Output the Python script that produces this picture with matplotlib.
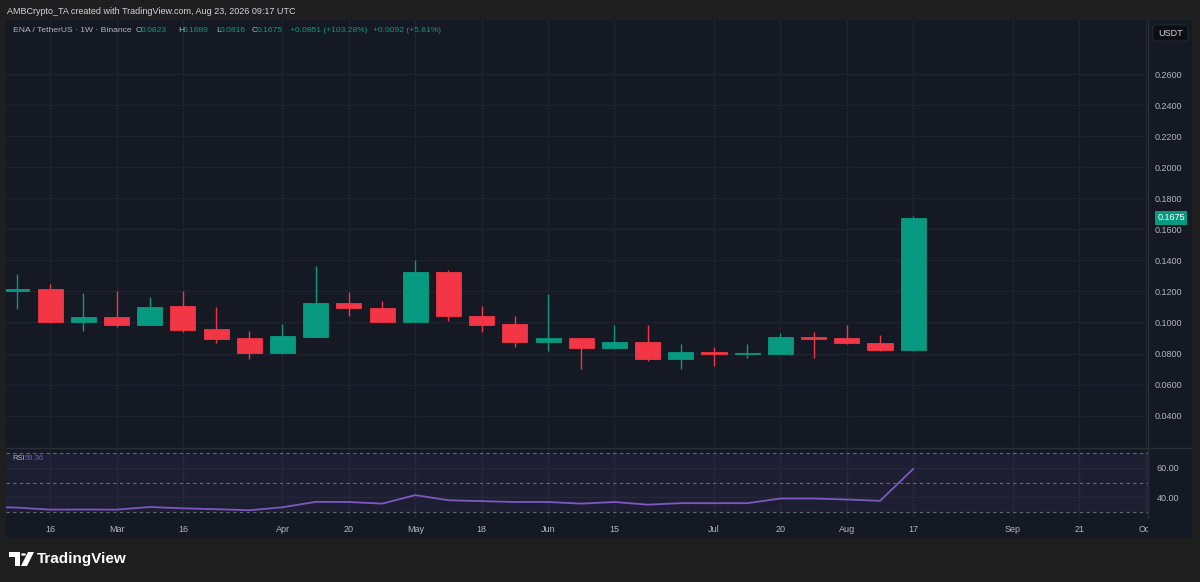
import matplotlib
matplotlib.use("Agg")
import matplotlib.pyplot as plt
import matplotlib.dates as mdates
from matplotlib.patches import Rectangle, FancyBboxPatch, Polygon, Circle
from matplotlib.transforms import blended_transform_factory, Bbox, TransformedBbox
import numpy as np
import datetime as dt

# weekly ENA/USDT candles, Binance
weeks = [dt.date(2026, 2, 9) + dt.timedelta(weeks=i) for i in range(28)]
opens = [0.1203, 0.1218, 0.1001, 0.1035, 0.0986, 0.1104, 0.0956, 0.0900, 0.0803, 0.0908,
         0.1124, 0.1095, 0.1003, 0.1324, 0.1044, 0.0988, 0.0876, 0.0900, 0.0837, 0.0872,
         0.0765, 0.0808, 0.0795, 0.0797, 0.0904, 0.0898, 0.0866, 0.0823]
highs = [0.1313, 0.1246, 0.1192, 0.1203, 0.1166, 0.1205, 0.1100, 0.0945, 0.0990, 0.1366,
         0.1195, 0.1139, 0.1403, 0.1339, 0.1106, 0.1042, 0.1184, 0.0902, 0.0984, 0.0984,
         0.0861, 0.0842, 0.0861, 0.0930, 0.0939, 0.0984, 0.0919, 0.1689]
lows = [0.1085, 0.0998, 0.0945, 0.0969, 0.0986, 0.0941, 0.0866, 0.0767, 0.0795, 0.0908,
        0.1044, 0.1003, 0.1003, 0.1010, 0.0941, 0.0844, 0.0816, 0.0698, 0.0829, 0.0750,
        0.0702, 0.0721, 0.0771, 0.0795, 0.0769, 0.0861, 0.0816, 0.0816]
closes = [0.1215, 0.1001, 0.1034, 0.0986, 0.1102, 0.0952, 0.0892, 0.0803, 0.0913, 0.1124,
          0.1092, 0.1003, 0.1324, 0.1042, 0.0986, 0.0876, 0.0898, 0.0837, 0.0872, 0.0765,
          0.0808, 0.0795, 0.0800, 0.0904, 0.0892, 0.0865, 0.0823, 0.1675]

rsi_weeks = [dt.date(2026, 2, 2) + dt.timedelta(weeks=i) for i in range(29)]
rsi_values = [33.6, 33.0, 31.6, 31.7, 31.6, 33.4, 32.5, 31.9, 31.2, 33.2, 36.9, 36.8, 35.7,
              41.5, 38.0, 37.4, 36.8, 36.8, 35.7, 36.8, 35.0, 36.0, 36.0, 36.0, 39.2, 39.2,
              38.5, 37.6, 59.36]

price_ticks = [0.04, 0.06, 0.08, 0.10, 0.12, 0.14, 0.16, 0.18, 0.20, 0.22, 0.24, 0.26]
time_ticks = [dt.date(2026, 2, 16), dt.date(2026, 3, 2), dt.date(2026, 3, 16), dt.date(2026, 4, 6),
              dt.date(2026, 4, 20), dt.date(2026, 5, 4), dt.date(2026, 5, 18), dt.date(2026, 6, 1),
              dt.date(2026, 6, 15), dt.date(2026, 7, 6), dt.date(2026, 7, 20), dt.date(2026, 8, 3),
              dt.date(2026, 8, 17), dt.date(2026, 9, 7), dt.date(2026, 9, 21), dt.date(2026, 10, 5)]
time_labels = ["16", "Mar", "16", "Apr", "20", "May", "18", "Jun", "15", "Jul", "20", "Aug",
               "17", "Sep", "21", "Oct"]

UP = "#089981"
DOWN = "#f23645"
BG = "#151924"
FRAME = "#1f1f1f"
GRID = "#1f2330"
TXT = "#b2b5be"
PURPLE = "#7e57c2"

plt.rcParams["font.family"] = ["Liberation Sans", "DejaVu Sans"]

W, H = 1200, 582
fig = plt.figure(figsize=(12, 5.82), dpi=100, facecolor=FRAME)


def fx(px):
    return px / W


def fy(py):
    return 1 - py / H


# chart panel (behind the axes)
fig.patches.append(Rectangle((fx(6), fy(538)), fx(1186), 518 / H, transform=fig.transFigure,
                             facecolor=BG, edgecolor="none", zorder=-5))

ax = fig.add_axes([fx(6), fy(447), fx(1142), 427 / H])
rsi = fig.add_axes([fx(6), fy(518), fx(1142), 71 / H], sharex=ax)

x = mdates.date2num(weeks)
o = np.array(opens)
c = np.array(closes)
colors = [UP if cc >= oo else DOWN for oo, cc in zip(o, c)]
body = np.where(np.abs(c - o) < 0.0006, 0.0006 * np.sign(c - o + 1e-9), c - o)

ax.vlines(x, lows, highs, colors=colors, linewidth=1, zorder=2)
ax.bar(x, body, bottom=o, width=5.3, color=colors, edgecolor=colors, linewidth=0.6, zorder=3)

for a in (ax, rsi):
    a.set_facecolor(BG)
    for s in a.spines.values():
        s.set_visible(False)
    a.tick_params(length=0, colors=TXT, labelsize=6.5)
    a.yaxis.tick_right()
    a.set_xticks(mdates.date2num(time_ticks))
    a.grid(True, color=GRID, linewidth=1)
    a.set_axisbelow(True)

ax.set_xlim(mdates.date2num(dt.date(2026, 2, 9)) - 2.3, mdates.date2num(dt.date(2026, 2, 9)) + 238.5)
ax.set_ylim(0.0197, 0.2951)
ax.set_yticks(price_ticks)
ax.set_yticklabels([f"{t:.4f}" for t in price_ticks])
ax.tick_params(axis="y", pad=5)
ax.tick_params(axis="x", labelbottom=False)

# last price label
tr = blended_transform_factory(ax.transAxes, ax.transData)
ax.text(1.0201, closes[-1], f"{closes[-1]:.4f}", transform=tr, ha="center", va="center",
        fontsize=6.5, color="white", clip_on=False,
        bbox=dict(boxstyle="square,pad=0.25", facecolor=UP, edgecolor="none"))

# RSI pane
rx = mdates.date2num(rsi_weeks)
rsi.axhspan(30, 70, color=PURPLE, alpha=0.09, lw=0, zorder=1)
for lvl in (70, 50, 30):
    rsi.axhline(lvl, color="#787b86", lw=0.8, ls=(0, (3, 3)), alpha=0.8, zorder=2)
rsi.plot(rx, rsi_values, color=PURPLE, lw=1.3, zorder=3)
rsi.set_ylim(25.9, 74.3)
rsi.set_yticks([40, 60])
rsi.set_yticklabels(["40.00", "60.00"])
rsi.tick_params(axis="y", pad=6)
rsi.tick_params(axis="x", pad=5)
rsi.set_xticklabels(time_labels)
clip = TransformedBbox(Bbox([[0, 0], [fx(1148), 1]]), fig.transFigure)
for lbl in rsi.get_xticklabels():
    lbl.set_clip_box(clip)
    lbl.set_clip_on(True)

# separators
fig.add_artist(plt.Line2D([fx(6), fx(1192)], [fy(447.5), fy(447.5)], color="#2a2e39", lw=1))
fig.add_artist(plt.Line2D([fx(1148), fx(1148)], [fy(20), fy(518)], color="#2a2e39", lw=1))

# header texts
fig.text(fx(7), fy(12), "AMBCrypto_TA created with TradingView.com, Aug 23, 2026 09:17 UTC",
         color="#d1d4dc", fontsize=6.45, va="center")
legend_parts = [(13, "ENA / TetherUS · 1W · Binance", TXT), (136, "O", TXT), (141, "0.0823", UP),
                (178, "H", TXT), (183, "0.1689", UP), (216, "L", TXT), (220, "0.0816", UP),
                (252, "C", TXT), (257, "0.1675", UP), (290, "+0.0851 (+103.28%)", UP),
                (373, "+0.0092 (+5.81%)", UP)]
for px, s, col in legend_parts:
    fig.text(fx(px), fy(30.5), s, color=col, fontsize=6.1, va="center")

fig.text(fx(12), fy(459), "RSI", color=TXT, fontsize=5.5, va="center")
fig.text(fx(25), fy(459), "59.36", color=PURPLE, fontsize=5.5, va="center")

# currency button
fig.patches.append(FancyBboxPatch((fx(1153), fy(41)), fx(35), 16 / H, transform=fig.transFigure,
                                  boxstyle="round,pad=0,rounding_size=0.003",
                                  facecolor="#0c0e14", edgecolor="#2a2e39", lw=0.6))
fig.text(fx(1170.5), fy(33), "USDT", color="#d1d4dc", fontsize=6.5, ha="center", va="center")

# TradingView logo
fig.patches.append(Polygon([(fx(9), fy(552)), (fx(20), fy(552)), (fx(20), fy(566)), (fx(15), fy(566)),
                            (fx(15), fy(557)), (fx(9), fy(557))], closed=True,
                           transform=fig.transFigure, facecolor="white", edgecolor="none"))
fig.patches.append(Circle((fx(23.5), fy(554.5)), 2.5 / W, transform=fig.transFigure,
                          facecolor="white", edgecolor="none"))
fig.patches.append(Polygon([(fx(28), fy(552)), (fx(34), fy(552)), (fx(27), fy(566)), (fx(21), fy(566))],
                           closed=True, transform=fig.transFigure, facecolor="white", edgecolor="none"))
fig.text(fx(37), fy(559), "TradingView", color="white", fontsize=11, va="center", fontweight="bold")

fig.savefig("out.png", dpi=100, facecolor=FRAME)
